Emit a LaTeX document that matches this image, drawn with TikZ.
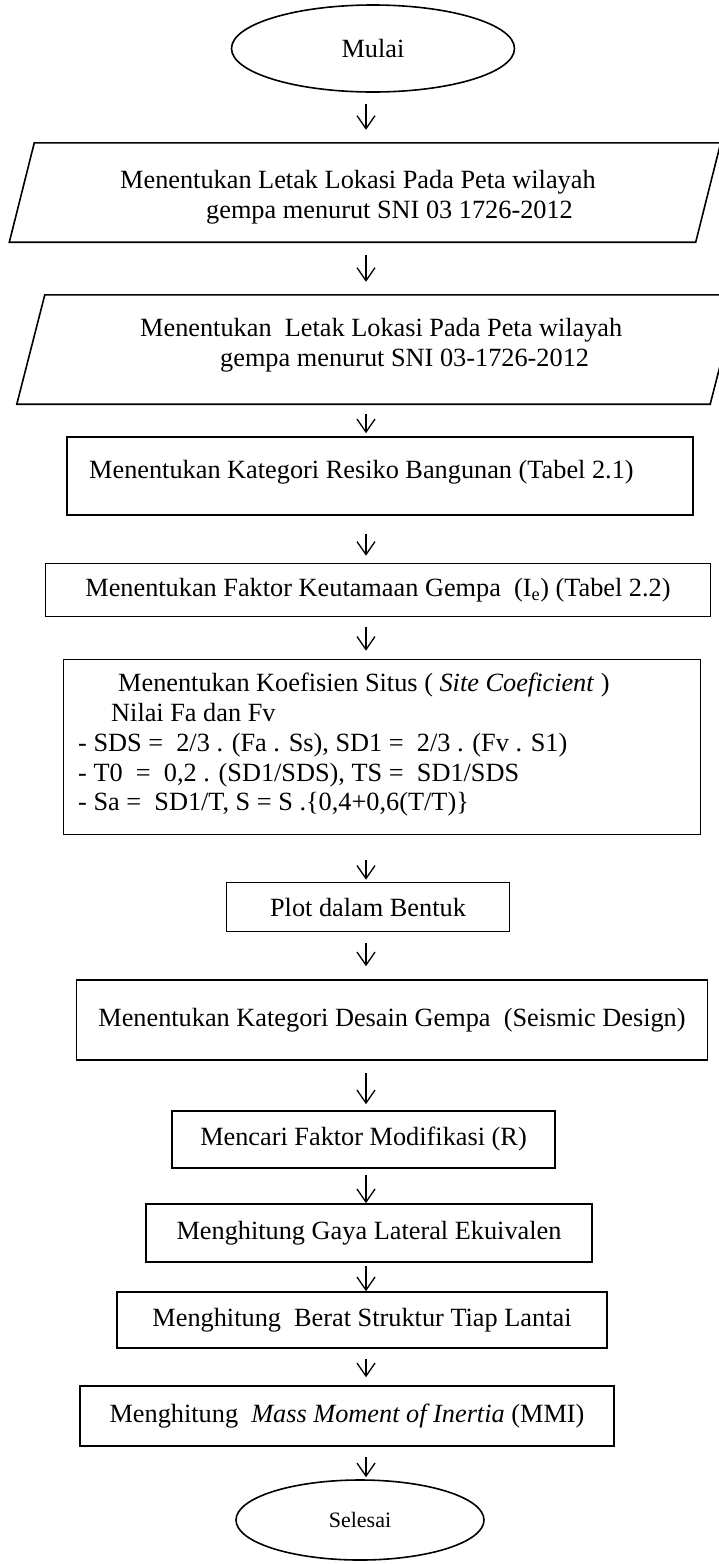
\documentclass[tikz,border=0pt]{standalone}
\usepackage{fontspec}
\setmainfont{Liberation Serif}
\usetikzlibrary{shapes.geometric,arrows.meta}
\begin{document}
\begin{tikzpicture}[x=1pt,y=1pt,
  every node/.style={font=\fontsize{26.3}{29.8}\selectfont,inner sep=0pt},
  pbox/.style={draw,line width=1.6pt,rectangle},
  term/.style={draw,line width=1.6pt,ellipse},
  holder/.style={rectangle},
  paraline/.style={line width=1.6pt,line join=miter},
  arr/.style={line width=1.3pt,-{Straight Barb[length=13pt,width=18pt,line width=1.3pt]}}]
\useasboundingbox (0,0) rectangle (719,-1564);
\coordinate (ax) at (366,0);

% start
\node[term,minimum width=283,minimum height=87] (mulai) at (373,-48.5) {Mulai};

% parallelogram 1
\node[holder,minimum width=686,minimum height=99] (p1) at (365,-192.5) {};
\draw[paraline] ([xshift=-12.5]p1.south west) -- ([xshift=12.5]p1.north west) -- ([xshift=12.5]p1.north east) -- ([xshift=-12.5]p1.south east) -- cycle;
\node[anchor=west,align=left] (p1t) at (120,-197) {Menentukan Letak Lokasi Pada Peta wilayah\\\hspace*{86pt}gempa menurut SNI 03 1726-2012};

% parallelogram 2
\node[holder,minimum width=693,minimum height=109] (p2) at (377.5,-349.5) {};
\draw[paraline] ([xshift=-14]p2.south west) -- ([xshift=14]p2.north west) -- ([xshift=14]p2.north east) -- ([xshift=-14]p2.south east) -- cycle;
\node[anchor=west,align=left] (p2t) at (140,-345) {Menentukan\ \ Letak Lokasi Pada Peta wilayah\\\hspace*{80pt}gempa menurut SNI 03-1726-2012};

% boxes
\node[pbox,minimum width=626,minimum height=78] (b3) at (380,-476) {};
\node[anchor=base west] (b3t) at (89,-478) {Menentukan Kategori Resiko Bangunan (Tabel 2.1)};

\node[pbox,minimum width=665,minimum height=53] (b4) at (378,-590) {Menentukan Faktor Keutamaan Gempa\ \ (I\textsubscript{e}) (Tabel 2.2)};

\node[pbox,minimum width=637,minimum height=175] (b5) at (382,-747) {};
\node[anchor=north west,align=left] (b5t) at (78,-673) {\hspace*{40pt}Menentukan Koefisien Situs ( \textit{Site Coeficient} )\\
\hspace*{33pt}Nilai Fa dan Fv\\
- SDS =\ \ 2/3 . (Fa . Ss), SD1 =\ \ 2/3 . (Fv . S1)\\
- T0\ \ =\ \ 0,2 . (SD1/SDS), TS =\ \ SD1/SDS\\
- Sa =\ \ SD1/T, S = S .\{0,4+0,6(T/T)\}};

\node[pbox,minimum width=283,minimum height=49] (b6) at (368,-907) {Plot dalam Bentuk};

\node[pbox,minimum width=631,minimum height=80] (b7) at (392,-1020) {Menentukan Kategori Desain Gempa\ \ (Seismic Design)};

\node[pbox,minimum width=383,minimum height=57] (b8) at (363.5,-1139.5) {Mencari Faktor Modifikasi (R)};

\node[pbox,minimum width=446,minimum height=58] (b9) at (369,-1233) {Menghitung Gaya Lateral Ekuivalen};

\node[pbox,minimum width=490,minimum height=56] (b10) at (362,-1320) {Menghitung\ \ Berat Struktur Tiap Lantai};

\node[pbox,minimum width=534,minimum height=60] (b11) at (347,-1416) {Menghitung\ \ \textit{Mass Moment of Inertia} (MMI)};

\node[term,minimum width=248,minimum height=80,font=\fontsize{22}{25}\selectfont] (selesai) at (360,-1520) {Selesai};

% connectors
\draw[arr,shorten <=11pt,shorten >=13pt] (mulai.south -| ax) -- (p1.north -| ax);
\draw[arr,shorten <=13pt,shorten >=13pt] (p1.south -| ax) -- (p2.north -| ax);
\draw[arr,shorten <=10pt,shorten >=3pt] (p2.south -| ax) -- (b3.north -| ax);
\draw[arr,shorten <=18pt,shorten >=7pt] (b3.south -| ax) -- (b4.north -| ax);
\draw[arr,shorten <=10pt,shorten >=8pt] (b4.south -| ax) -- (b5.north -| ax);
\draw[arr,shorten <=25pt,shorten >=2pt] (b5.south -| ax) -- (b6.north -| ax);
\draw[arr,shorten <=11pt,shorten >=13pt] (b6.south -| ax) -- (b7.north -| ax);
\draw[arr,shorten <=12pt,shorten >=6pt] (b7.south -| ax) -- (b8.north -| ax);
\draw[arr,shorten <=6pt,shorten >=0pt] (b8.south -| ax) -- (b9.north -| ax);
\draw[arr,shorten <=3pt,shorten >=0pt] (b9.south -| ax) -- (b10.north -| ax);
\draw[arr,shorten <=10pt,shorten >=8pt] (b10.south -| ax) -- (b11.north -| ax);
\draw[arr,shorten <=10pt,shorten >=2pt] (b11.south -| ax) -- (selesai.north -| ax);
\end{tikzpicture}
\end{document}
